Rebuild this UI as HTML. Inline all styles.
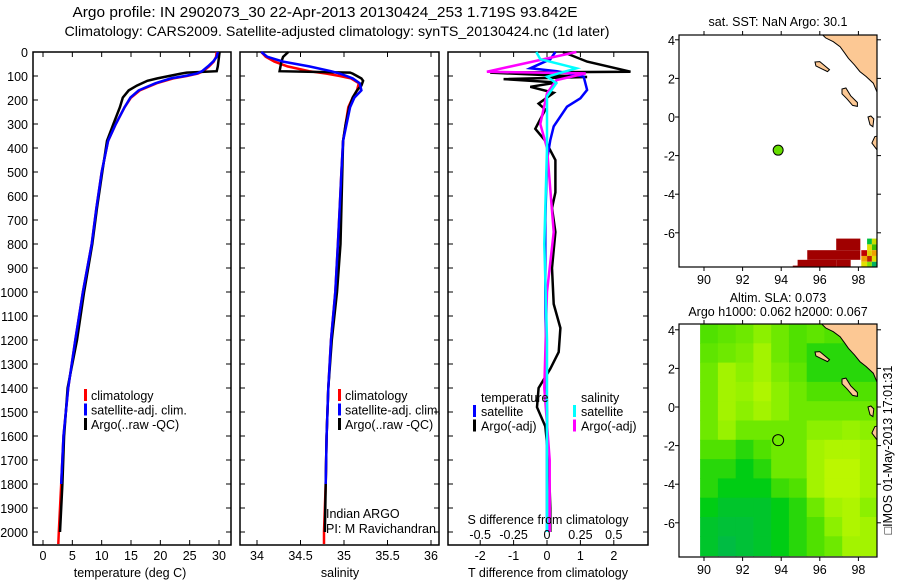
<!DOCTYPE html>
<html><head><meta charset="utf-8">
<style>
html,body{margin:0;padding:0;background:#fff;}
svg{display:block;font-family:"Liberation Sans",sans-serif;}
text{fill:#000;}
</style></head>
<body>
<svg id="fig" width="900" height="580" viewBox="0 0 900 580" xmlns="http://www.w3.org/2000/svg">
<text x="325" y="17" font-size="15" text-anchor="middle" textLength="505" lengthAdjust="spacingAndGlyphs">Argo profile: IN 2902073_30 22-Apr-2013 20130424_253 1.719S 93.842E</text>
<text x="337" y="36" font-size="14" text-anchor="middle" textLength="545" lengthAdjust="spacingAndGlyphs">Climatology: CARS2009. Satellite-adjusted climatology: synTS_20130424.nc (1d later)</text>
<g id="layer"></g>
</svg>
<script>
// ---------- data ----------
const depthTicks=[0,100,200,300,400,500,600,700,800,900,1000,1100,1200,1300,1400,1500,1600,1700,1800,1900,2000];
const tempTicks=[0,5,10,15,20,25,30];
const salTicks=[34,34.5,35,35.5,36];
const salTickLabels=["34","34.5","35","35.5","36"];
const tdiffTicks=[-2,-1,0,1,2];
const sdiffTicks=[-0.5,-0.25,0,0.25,0.5];
const sdiffTickLabels=["-0.5","-0.25","0","0.25","0.5"];

const climDepth=[0,20,40,60,80,90,100,110,130,160,190,230,300,370,500,650,800,1000,1200,1400,1600,1800,2000,2050];
const tClim=[29.6,29.5,29.1,28.3,27.3,26.4,24.5,22.2,19.4,16.5,15.0,13.9,12.4,11.1,10.0,9.1,8.3,6.8,5.5,4.3,3.5,3.1,2.7,2.6];
const tSat=[29.8,29.6,29.0,28.1,27.1,26.2,24.2,21.8,19.2,16.3,14.9,13.9,12.4,11.1,10.0,9.1,8.3,6.8,5.5,4.3,3.5,3.1,2.8,2.8];
const argoDepth=[0,20,40,60,80,86,90,100,110,120,140,160,190,230,300,370,500,650,800,1000,1200,1400,1600,1800,2000];
const tArgo=[30.1,30.0,29.9,29.8,29.6,24.5,23.5,21.5,19.5,17.8,16.0,14.6,13.6,13.1,12.0,10.9,10.1,9.2,8.4,7.0,5.8,4.2,3.6,3.3,2.9];

const sClim=[34.05,34.1,34.2,34.35,34.6,34.8,34.95,35.08,35.17,35.15,35.1,35.05,35.02,34.99,34.97,34.95,34.93,34.9,34.85,34.82,34.8,34.79,34.77,34.77];
const sSat=[34.05,34.12,34.3,34.6,34.85,34.95,35.03,35.1,35.18,35.2,35.12,35.07,35.03,34.99,34.97,34.95,34.93,34.9,34.85,34.82,34.8,34.79,34.76,34.76];
const sArgo=[34.36,34.3,34.28,34.27,34.26,35.07,35.1,35.15,35.2,35.22,35.2,35.15,35.1,35.06,35.02,34.99,34.98,34.97,34.96,34.92,34.86,34.82,34.8,34.79,34.78];

const tSatDiffDepth=[0,30,68,80,103,158,193,228,310,367,450,700,1000,1500,2000];
const tSatDiff=[0.25,0.1,-0.5,0.3,1.1,1.2,1.0,0.6,0.2,0.1,0.0,-0.05,-0.05,0.0,0.0];
const tArgoDiffDepth=[0,40,82,86,104,113,127,145,170,215,240,320,370,450,585,650,750,900,1050,1150,1250,1320,1400,1480,1560,1700,1900,2000];
const tArgoDiff=[0.48,1.2,2.5,-1.7,1.2,-1.3,0.3,-0.5,0.2,-0.25,-0.05,-0.35,-0.05,0.25,0.25,0.15,0.25,0.15,0.2,0.4,0.35,0.1,-0.25,-0.3,-0.05,0.05,0.1,0.1];
const sArgoDiffDepth=[0,82,89,117,172,300,400,750,1000,1400,1700,2000];
const sArgoDiff=[0.22,-0.45,0.29,0.07,0.0,-0.05,0.0,0.05,0.0,-0.02,0.02,0.02];
const sSatDiffDepth=[0,30,68,103,130,185,400,800,1200,1600,2000];
const sSatDiff=[-0.08,-0.05,0.22,0.0,0.07,0.0,0.0,-0.02,0.0,0.0,0.0];

const lonTicks=[90,92,94,96,98];
const latTicks=[4,2,0,-2,-4,-6];
const argoLon=93.842, argoLat=-1.719;
// SLA grid rows (lat 4.3 -> -7.7), columns lon 89.8 -> 99
const slaGrid=[
[0.5,0.55,0.6,0.7,0.6,0.5,0.55,0.5,0.45,0.45],
[0.55,0.6,0.65,0.8,0.6,0.5,0.4,0.4,0.4,0.4],
[0.6,0.8,0.7,0.8,0.65,0.55,0.4,0.4,0.4,0.4],
[0.6,0.8,0.75,0.85,0.7,0.6,0.5,0.5,0.5,0.5],
[0.6,0.8,0.7,0.8,0.7,0.6,0.6,0.6,0.6,0.6],
[0.6,0.75,0.6,0.6,0.6,0.6,0.7,0.7,0.75,0.7],
[0.5,0.5,0.4,0.5,0.6,0.6,0.8,0.85,0.85,0.8],
[0.4,0.4,0.3,0.4,0.6,0.6,0.8,0.9,0.9,0.8],
[0.4,0.3,0.3,0.3,0.45,0.5,0.8,0.9,0.9,0.8],
[0.3,0.2,0.2,0.2,0.3,0.4,0.6,0.8,0.85,0.7],
[0.2,0.15,0.15,0.2,0.3,0.4,0.5,0.7,0.85,0.8],
[0.2,0.1,0.15,0.2,0.3,0.4,0.5,0.6,0.8,0.8]];
// SST cells: [lon0, lon1, lat0, lat1, colour]
const sstCells=[
[96.85,98.1,-6.3,-6.9,"#a00000"],
[95.35,98.1,-6.9,-7.4,"#a00000"],
[94.85,96.85,-7.4,-7.9,"#a00000"],
[94.6,96.6,-7.9,-7.7,"#a00000"],
[96.85,97.6,-7.4,-7.9,"#a00000"],
[98.45,98.7,-6.3,-6.6,"#00c040"],[98.7,98.95,-6.3,-6.6,"#c8e000"],
[98.45,98.7,-6.6,-6.9,"#e0e000"],[98.7,98.95,-6.6,-6.9,"#40c000"],
[98.15,98.45,-6.9,-7.2,"#c00000"],[98.45,98.7,-6.9,-7.2,"#e0d000"],[98.7,98.95,-6.9,-7.2,"#f0a000"],
[98.15,98.45,-7.2,-7.5,"#f0a000"],[98.45,98.7,-7.2,-7.5,"#c02000"],[98.7,98.95,-7.2,-7.5,"#e0e000"],
[98.15,98.45,-7.5,-7.8,"#e0e000"],[98.45,98.7,-7.5,-7.8,"#80e000"],[98.7,98.95,-7.5,-7.8,"#00b060"]];
const landPolys=[
[[96.0,4.4],[96.3,4.1],[96.7,3.9],[97.05,3.64],[97.3,3.3],[97.48,3.04],[97.8,2.7],[98.08,2.35],[98.4,2.1],[98.77,1.75],[99.0,1.2],[99.0,4.4]],
[[98.7,-1.35],[98.85,-1.02],[99.0,-0.98],[99.0,-1.75],[98.85,-1.55]],
[[95.75,2.85],[96.0,2.87],[96.2,2.7],[96.5,2.45],[96.4,2.35],[96.1,2.5],[95.8,2.65]],
[[97.15,1.45],[97.35,1.5],[97.6,1.1],[97.95,0.75],[97.95,0.55],[97.7,0.6],[97.4,0.95],[97.15,1.2]],
[[98.5,0.0],[98.65,0.05],[98.8,-0.1],[98.75,-0.5],[98.6,-0.4],[98.55,-0.2]]];

// ---------- helpers ----------
const NS="http://www.w3.org/2000/svg";
const FS=12.5;
const layer=document.getElementById('layer');
function mk(tag,attrs,parent){const e=document.createElementNS(NS,tag);for(const k in attrs)e.setAttribute(k,attrs[k]);(parent||layer).appendChild(e);return e;}
function txt(s,x,y,size,anchor,parent){const e=mk('text',{x:x,y:y,'font-size':size,'text-anchor':anchor||'middle'},parent);e.textContent=s;return e;}
const top0=52, bot0=545;
const yD=d=>top0+d*0.24;
const xT=t=>43+t*5.867;
const xS=s=>257+(s-34)*87;
const xTd=v=>547+v*33.4;
const xSd=v=>547+v*133.6;
function poly(xs,ys,color,name,w){const pts=xs.map((x,i)=>x.toFixed(1)+','+ys[i].toFixed(1)).join(' ');const p=mk('polyline',{points:pts,fill:'none',stroke:color,'stroke-width':w||2.5,'stroke-linejoin':'miter'});

return p;}
function panel(x0,x1,name){const r=mk('rect',{x:x0,y:top0,width:x1-x0,height:bot0-top0,fill:'none',stroke:'#000','stroke-width':1.5});


depthTicks.forEach(d=>{mk('line',{x1:x0,x2:x0+5,y1:yD(d),y2:yD(d),stroke:'#000'});mk('line',{x1:x1-5,x2:x1,y1:yD(d),y2:yD(d),stroke:'#000'});});}
function xticks(vals,f,labels){vals.forEach((v,i)=>{const x=f(v);mk('line',{x1:x,x2:x,y1:top0,y2:top0+5,stroke:'#000'});mk('line',{x1:x,x2:x,y1:bot0-5,y2:bot0,stroke:'#000'});const t=txt(labels?labels[i]:String(v),x,560,FS);

});}
function legendBar(x,y,c){mk('rect',{x:x,y:y-11,width:3,height:12,fill:c});}

// ---------- panel 1: temperature ----------
panel(33,231,'temperature-panel');
depthTicks.forEach(d=>{const t=txt(String(d),28,yD(d)+5,FS,'end');

});
xticks(tempTicks,xT);
poly(tClim.map(xT),climDepth.map(yD),'#f00','temp-climatology-line');
poly(tArgo.map(xT),argoDepth.map(yD),'#000','temp-argo-line');
poly(tSat.slice(0,22).map(xT),climDepth.slice(0,22).map(yD),'#00f','temp-satellite-line');
txt('temperature (deg C)',130,577,FS);
[['climatology','#f00'],['satellite-adj. clim.','#00f'],['Argo(..raw -QC)','#000']].forEach((l,i)=>{legendBar(84,400+i*14.5,l[1]);const t=txt(l[0],91,400+i*14.5,FS,'start');

});

// ---------- panel 2: salinity ----------
panel(240,439,'salinity-panel');
xticks(salTicks,xS,salTickLabels);
poly(sClim.map(xS),climDepth.map(yD),'#f00','sal-climatology-line');
poly(sArgo.map(xS),argoDepth.map(yD),'#000','sal-argo-line');
poly(sSat.slice(0,22).map(xS),climDepth.slice(0,22).map(yD),'#00f','sal-satellite-line');
txt('salinity',340,577,FS);
[['climatology','#f00'],['satellite-adj. clim.','#00f'],['Argo(..raw -QC)','#000']].forEach((l,i)=>{legendBar(338,400+i*14.5,l[1]);const t=txt(l[0],345,400+i*14.5,FS,'start');

});
txt('Indian ARGO',326,518,FS,'start');
const pi=txt('PI: M Ravichandran',326,533,FS,'start');
pi.setAttribute('textLength','110');
pi.setAttribute('lengthAdjust','spacingAndGlyphs');


// ---------- panel 3: differences ----------
panel(448,648,'difference-panel');
xticks(tdiffTicks,xTd);
poly(tArgoDiff.map(xTd),tArgoDiffDepth.map(yD),'#000','tdiff-argo-line');
poly(tSatDiff.map(xTd),tSatDiffDepth.map(yD),'#00f','tdiff-satellite-line');
poly(sArgoDiff.map(xSd),sArgoDiffDepth.map(yD),'#f0f','sdiff-argo-line');
poly(sSatDiff.map(xSd),sSatDiffDepth.map(yD),'#0ff','sdiff-satellite-line');
sdiffTicks.forEach((v,i)=>{const t=txt(sdiffTickLabels[i],xSd(v),539,FS);

});
txt('S difference from climatology',548,524,FS);
txt('T difference from climatology',548,577,FS);
txt('temperature',481,402,FS,'start');
txt('salinity',581,402,FS,'start');
[['satellite','#00f',473,481],['Argo(-adj)','#000',473,481],['satellite','#0ff',573,581],['Argo(-adj)','#f0f',573,581]].forEach((l,i)=>{const y=416+(i%2)*14.5;legendBar(l[2],y,l[1]);const t=txt(l[0],l[3],y,FS,'start');

});

// ---------- maps ----------
const mx0=679,mx1=877;
const xL=lon=>704+(lon-90)*19.3;
function mapFrame(yLat,ytop,ybot,name){
  lonTicks.forEach(v=>{const x=xL(v);mk('line',{x1:x,x2:x,y1:ytop-4,y2:ytop,stroke:'#000'});mk('line',{x1:x,x2:x,y1:ybot,y2:ybot+4,stroke:'#000'});const t=txt(String(v),x,ybot+17,FS);
  
  });
  latTicks.forEach(v=>{const y=yLat(v);mk('line',{x1:mx0-4,x2:mx0,y1:y,y2:y,stroke:'#000'});mk('line',{x1:mx1,x2:mx1+4,y1:y,y2:y,stroke:'#000'});const t=txt(String(v),675,y+5,FS,'end');
  
  });
  const r=mk('rect',{x:mx0,y:ytop,width:mx1-mx0,height:ybot-ytop,fill:'none',stroke:'#000','stroke-width':1.2});
  
  
}
function drawLand(yLat,g){landPolys.forEach(p=>{const e=mk('polygon',{points:p.map(q=>xL(q[0]).toFixed(1)+','+yLat(q[1]).toFixed(1)).join(' '),fill:'#fcc894',stroke:'#000','stroke-width':1},g);

});}

// map 1: SST
const y1=lat=>117-lat*19.3;
const c1=mk('clipPath',{id:'clip1'});mk('rect',{x:mx0,y:35,width:mx1-mx0,height:232},c1);
const g1=mk('g',{'clip-path':'url(#clip1)'});
sstCells.forEach(c=>{const a=mk('rect',{x:xL(c[0]),y:y1(Math.max(c[2],c[3])),width:xL(c[1])-xL(c[0]),height:Math.abs(y1(c[3])-y1(c[2])),fill:c[4]},g1);

});
drawLand(y1,g1);
mapFrame(y1,35,267,'sst-map');
const dot=mk('circle',{cx:xL(argoLon),cy:y1(argoLat),r:5,fill:'#66dd00',stroke:'#000','stroke-width':1});


txt('sat. SST: NaN Argo: 30.1',778,26,FS);

// map 2: SLA
const y2=lat=>407-lat*19.3;
function cmap(v){const st=[[0,[0,180,90]],[0.3,[0,205,20]],[0.5,[80,225,0]],[0.7,[140,240,0]],[1,[210,250,0]]];
for(let i=1;i<st.length;i++){if(v<=st[i][0]){const a=st[i-1],b=st[i],f=(v-a[0])/(b[0]-a[0]);return 'rgb('+a[1].map((c,k)=>Math.round(c+(b[1][k]-c)*f)).join(',')+')';}}return 'rgb(210,250,0)';}
const c2=mk('clipPath',{id:'clip2'});mk('rect',{x:mx0,y:324,width:mx1-mx0,height:233},c2);
const g2=mk('g',{'clip-path':'url(#clip2)'});
const lonStep=(99-89.8)/slaGrid[0].length;
slaGrid.forEach((row,r)=>row.forEach((v,c)=>{const x0=xL(89.8+c*lonStep),x1=xL(89.8+(c+1)*lonStep);const ya=y2(4.3-r),yb=y2(4.3-r-1);
const a=mk('rect',{x:x0.toFixed(1),y:ya.toFixed(1),width:(x1-x0+0.6).toFixed(1),height:(yb-ya+0.6).toFixed(1),fill:cmap(v)},g2);

}));
drawLand(y2,g2);
mapFrame(y2,324,557,'sla-map');
const ring=mk('circle',{cx:xL(argoLon),cy:y2(argoLat),r:5.5,fill:'none',stroke:'#000','stroke-width':1});


txt('Altim. SLA: 0.073',778,302,FS);
txt('Argo h1000: 0.062 h2000: 0.067',778,316,FS);
const stamp=txt('\u25A1IMOS 01-May-2013 17:01:31',0,0,FS,'middle');
stamp.setAttribute('transform','translate(892,450) rotate(-90)');


</script>
</body></html>
